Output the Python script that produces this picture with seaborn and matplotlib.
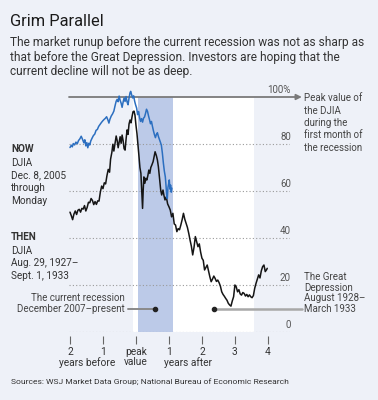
import pandas as pd
import matplotlib
matplotlib.use("Agg")
import matplotlib.pyplot as plt
import seaborn as sns

# years relative to the peak, DJIA as % of the peak in the recession's first month
now_years = [-2.00, -1.96, -1.93, -1.90, -1.86, -1.82, -1.78, -1.74, -1.70, -1.66,
             -1.62, -1.58, -1.55, -1.52, -1.49, -1.46, -1.43, -1.40, -1.37, -1.33,
             -1.29, -1.25, -1.21, -1.17, -1.13, -1.09, -1.05, -1.01, -0.97, -0.93,
             -0.89, -0.85, -0.82, -0.79, -0.75, -0.71, -0.67, -0.63, -0.60, -0.57,
             -0.54, -0.51, -0.48, -0.45, -0.42, -0.39, -0.36, -0.33, -0.30, -0.27,
             -0.24, -0.21, -0.18, -0.16, -0.13, -0.10, -0.07, -0.04, -0.01, 0.02,
             0.05, 0.08, 0.11, 0.14, 0.17, 0.20, 0.23, 0.26, 0.29, 0.32,
             0.35, 0.38, 0.41, 0.44, 0.47, 0.50, 0.53, 0.56, 0.59, 0.62,
             0.65, 0.68, 0.71, 0.74, 0.77, 0.80, 0.83, 0.86, 0.89, 0.91,
             0.93, 0.95, 0.97, 0.99, 1.01, 1.03, 1.05, 1.07, 1.09]
now_pct = [78.5, 79.5, 78.8, 80.2, 79.6, 80.8, 80.1, 81.5, 82.2, 83.3,
           82.0, 80.5, 81.8, 79.2, 80.6, 78.4, 80.3, 79.6, 81.3, 82.5,
           83.6, 84.2, 85.8, 86.2, 87.5, 88.3, 89.1, 89.8, 90.4, 90.9,
           91.6, 90.2, 88.9, 90.5, 91.9, 92.8, 94.0, 96.5, 98.2, 99.0,
           98.0, 100.4, 98.6, 97.4, 95.6, 97.8, 99.6, 98.1, 100.2, 97.9,
           96.7, 99.5, 101.8, 102.4, 100.9, 99.6, 100.5, 98.2, 96.6, 95.3,
           92.5, 93.8, 91.2, 89.6, 90.8, 89.3, 91.0, 91.5, 93.0, 94.8,
           93.9, 92.0, 90.4, 88.6, 89.6, 87.5, 85.6, 84.0, 82.7, 84.1,
           84.8, 83.2, 82.0, 80.8, 79.5, 76.2, 72.0, 68.5, 66.0, 62.5,
           58.5, 56.8, 61.5, 63.0, 64.7, 60.8, 62.5, 59.5, 61.2]

then_years = [-2.00, -1.96, -1.92, -1.88, -1.84, -1.80, -1.76, -1.72, -1.68, -1.64,
              -1.60, -1.56, -1.52, -1.48, -1.44, -1.40, -1.36, -1.32, -1.28, -1.24,
              -1.20, -1.16, -1.12, -1.08, -1.04, -1.00, -0.96, -0.92, -0.88, -0.84,
              -0.80, -0.77, -0.73, -0.70, -0.67, -0.63, -0.60, -0.57, -0.54, -0.51,
              -0.48, -0.45, -0.42, -0.39, -0.36, -0.33, -0.30, -0.27, -0.24, -0.21,
              -0.18, -0.15, -0.12, -0.09, -0.06, -0.03, 0.00, 0.03, 0.06, 0.09,
              0.12, 0.15, 0.18, 0.20, 0.22, 0.24, 0.27, 0.30, 0.33, 0.36,
              0.39, 0.42, 0.45, 0.48, 0.52, 0.55, 0.58, 0.62, 0.65, 0.68,
              0.72, 0.75, 0.78, 0.82, 0.85, 0.88, 0.92, 0.96, 1.00, 1.04,
              1.08, 1.12, 1.16, 1.20, 1.24, 1.28, 1.32, 1.36, 1.40, 1.44,
              1.48, 1.52, 1.56, 1.60, 1.64, 1.68, 1.72, 1.76, 1.80, 1.84,
              1.88, 1.92, 1.96, 2.00, 2.04, 2.08, 2.12, 2.16, 2.20, 2.24,
              2.28, 2.32, 2.36, 2.40, 2.44, 2.48, 2.52, 2.56, 2.60, 2.64,
              2.68, 2.72, 2.76, 2.80, 2.84, 2.88, 2.92, 2.96, 3.00, 3.04,
              3.08, 3.12, 3.16, 3.20, 3.24, 3.28, 3.32, 3.36, 3.40, 3.44,
              3.48, 3.52, 3.56, 3.60, 3.64, 3.68, 3.72, 3.76, 3.80, 3.84,
              3.88, 3.92, 3.96, 3.98]
then_pct = [51.0, 49.5, 47.8, 50.2, 51.5, 50.0, 51.8, 52.2, 51.0, 52.6,
            52.3, 53.8, 51.5, 53.0, 55.2, 55.0, 56.8, 56.0, 54.2, 55.5,
            54.3, 55.8, 55.7, 59.5, 62.1, 61.0, 63.5, 63.0, 66.5, 69.2,
            68.0, 73.5, 76.5, 79.9, 77.0, 80.6, 83.4, 81.5, 78.4, 80.8,
            83.1, 80.3, 83.8, 81.5, 78.0, 77.4, 82.0, 86.0, 84.1, 88.5,
            90.2, 89.0, 91.5, 93.7, 94.0, 92.3, 88.0, 84.5, 80.0, 75.0,
            70.0, 67.5, 59.0, 52.6, 60.5, 66.0, 63.3, 65.4, 64.7, 66.5,
            68.9, 67.5, 70.0, 71.0, 72.5, 74.6, 76.7, 75.0, 73.2, 70.3,
            64.7, 60.4, 58.3, 60.4, 58.0, 56.2, 57.5, 54.5, 53.3, 51.9,
            49.0, 50.5, 46.0, 45.5, 42.7, 44.0, 43.5, 45.5, 47.8, 50.5,
            48.0, 46.2, 44.5, 42.0, 39.1, 36.5, 32.8, 36.0, 40.6, 38.5,
            36.3, 37.5, 34.0, 31.4, 30.5, 26.4, 27.5, 28.5, 26.0, 23.5,
            21.4, 22.5, 23.8, 22.8, 21.5, 22.1, 21.0, 19.5, 17.1, 16.0,
            15.2, 14.3, 13.5, 12.2, 11.5, 11.0, 13.2, 15.0, 20.0, 19.2,
            17.1, 18.0, 16.2, 15.7, 16.8, 16.4, 15.3, 16.0, 15.0, 15.8,
            15.0, 14.6, 15.5, 18.6, 20.7, 22.5, 24.3, 23.0, 26.0, 27.8,
            28.5, 25.7, 26.5, 27.1]

y_ticks = [0, 20, 40, 60, 80, 100]
y_tick_labels = ["0", "20", "40", "60", "80", "100%"]
x_ticks = [-2, -1, 0, 1, 2, 3, 4]
x_tick_labels = ["2", "1", "peak\nvalue", "1", "2", "3", "4"]

now_df = pd.DataFrame({"years": now_years, "pct": now_pct})
then_df = pd.DataFrame({"years": then_years, "pct": then_pct})

BG = "#eef1f8"
TXT = "#333333"
GRAY = "#8a8a8a"

sns.set_style("white")
plt.rcParams["font.family"] = ["Roboto", "DejaVu Sans"]

W, H = 378, 400
fig = plt.figure(figsize=(W / 100, H / 100), dpi=100, facecolor=BG)


def fx(px):
    return px / W


def fy(py):
    return 1 - py / H


# axes box: x from pixel 69 to 290, y from 332 (0%) to 97 (100%)
ax = fig.add_axes([fx(69), fy(332), fx(290) - fx(69), fy(97) - fy(332)])
ax.set_facecolor(BG)
ax.set_xlim(-2.03, 4.67)
ax.set_ylim(0, 100)

# Great Depression span (white) and current recession (blue band)
ax.axvspan(-0.09, 3.58, color="white", zorder=0, lw=0)
ax.axvspan(0.06, 1.11, color="#bccae8", zorder=0.5, lw=0)

for v in y_ticks[:-1]:
    ax.axhline(v, color="#9a9a9a", lw=0.8, ls=(0, (1, 2)), zorder=1)

sns.lineplot(data=then_df, x="years", y="pct", ax=ax, color="#151515",
             lw=1.1, zorder=3, clip_on=False, estimator=None, sort=False)
sns.lineplot(data=now_df, x="years", y="pct", ax=ax, color="#2c6fc0",
             lw=1.1, zorder=4, clip_on=False, estimator=None, sort=False)

# 100% reference line with arrow
ax.annotate("", xy=(5.03, 100), xytext=(-2.03, 100), annotation_clip=False,
            arrowprops=dict(arrowstyle="-|>", color="#7a7a7a", lw=1.3,
                            mutation_scale=8, shrinkA=0, shrinkB=0), zorder=2)

for v, lab in zip(y_ticks, y_tick_labels):
    ax.text(4.70, v + 1.0, lab, ha="right", va="bottom", fontsize=7,
            color="#555555", clip_on=False)

for s in ax.spines.values():
    s.set_visible(False)
ax.spines["bottom"].set_position(("outward", 3))
ax.set_yticks([])
ax.set_xticks(x_ticks)
ax.set_xticklabels(x_tick_labels, fontsize=7.3, color=TXT, linespacing=1.05)
ax.tick_params(axis="x", bottom=True, direction="out", length=6, width=0.8,
               color="#666666", pad=1.5)
ax.set_xlabel("")
ax.set_ylabel("")
# second row under the numbers, at pixel y ~362
ax.text(-1.47, -13.2, "years before", ha="center", va="center", fontsize=7.3,
        color=TXT, clip_on=False)
ax.text(1.58, -13.2, "years after", ha="center", va="center", fontsize=7.3,
        color=TXT, clip_on=False)

# recession callouts
ax.plot([-0.24, 0.58], [9.8, 9.8], color=GRAY, lw=1.4, clip_on=False, zorder=5)
ax.plot([0.58], [9.8], "o", color="#222222", ms=3, clip_on=False, zorder=6)
ax.plot([2.36, 5.03], [9.8, 9.8], color="#a8a8a8", lw=1.8, clip_on=False, zorder=5)
ax.plot([2.36], [9.8], "o", color="#222222", ms=3, clip_on=False, zorder=6)

# header
fig.text(fx(10), fy(22), "Grim Parallel", fontsize=11.8, color="#1a1a1a",
         va="center", ha="left")
subtitle = ["The market runup before the current recession was not as sharp as",
            "that before the Great Depression. Investors are hoping that the",
            "current decline will not be as deep."]
for i, line in enumerate(subtitle):
    fig.text(fx(10), fy(42.5 + i * 14.7), line, fontsize=8.6, color=TXT,
             va="center", ha="left")

# left side labels
fig.text(fx(11), fy(149), "NOW", fontsize=7.2, weight="bold", color=TXT, va="center")
for i, line in enumerate(["DJIA", "Dec. 8, 2005", "through", "Monday"]):
    fig.text(fx(11), fy(163 + i * 12.6), line, fontsize=7.2, color=TXT, va="center")
fig.text(fx(11), fy(237), "THEN", fontsize=7.2, weight="bold", color=TXT, va="center")
for i, line in enumerate(["DJIA", "Aug. 29, 1927\u2013", "Sept. 1, 1933"]):
    fig.text(fx(11), fy(251 + i * 12.3), line, fontsize=7.2, color=TXT, va="center")

fig.text(fx(125), fy(298), "The current recession", fontsize=7, color="#444444",
         ha="right", va="center")
fig.text(fx(125), fy(309), "December 2007\u2013present", fontsize=7, color="#444444",
         ha="right", va="center")

# right side labels
for i, line in enumerate(["Peak value of", "the DJIA", "during the",
                          "first month of", "the recession"]):
    fig.text(fx(304), fy(98 + i * 12.5), line, fontsize=7, color="#444444", va="center")
for i, line in enumerate(["The Great", "Depression", "August 1928\u2013", "March 1933"]):
    fig.text(fx(304), fy(277 + i * 10.7), line, fontsize=7, color="#444444", va="center")

fig.text(fx(11), fy(382), "Sources: WSJ Market Data Group; National Bureau of Economic Research",
         fontsize=6.1, color=TXT, va="center")

fig.savefig("out.png", dpi=100, facecolor=BG)
